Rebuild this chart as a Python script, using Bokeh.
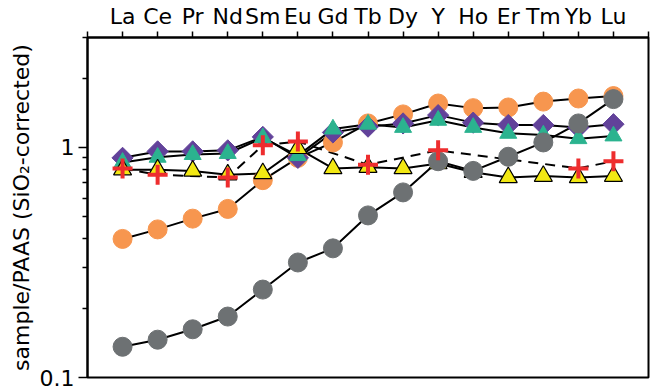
import numpy as np
from bokeh.plotting import figure
from bokeh.models import Range1d, FixedTicker
from bokeh.embed import file_html
from bokeh.resources import INLINE

elements = ["La", "Ce", "Pr", "Nd", "Sm", "Eu", "Gd", "Tb", "Dy", "Y", "Ho", "Er", "Tm", "Yb", "Lu"]
xpos = list(range(1, len(elements) + 1))

orange = [0.40, 0.44, 0.49, 0.54, 0.72, 0.90, 1.05, 1.27, 1.39, 1.55, 1.48, 1.49, 1.58, 1.63, 1.67]
grey = [0.136, 0.146, 0.162, 0.184, 0.241, 0.316, 0.364, 0.506, 0.637, 0.87, 0.79, 0.91, 1.05, 1.27, 1.62]
purple = [0.90, 0.96, 0.96, 0.97, 1.11, 0.90, 1.16, 1.23, 1.27, 1.38, 1.28, 1.25, 1.25, 1.22, 1.26]
teal = [0.86, 0.905, 0.93, 0.94, 1.10, 0.92, 1.20, 1.26, 1.22, 1.31, 1.22, 1.15, 1.13, 1.09, 1.12]
yellow = [0.80, 0.80, 0.79, 0.76, 0.77, 0.99, 0.81, 0.82, 0.81, 0.85, 0.78, 0.74, 0.75, 0.74, 0.75]
red = [0.81, 0.76, None, 0.74, 1.02, 1.06, None, 0.84, None, 0.97, None, None, None, 0.81, 0.87]

y_major = [0.1, 1]
y_minor = [0.2, 0.3, 0.4, 0.5, 0.6, 0.7, 0.8, 0.9, 2, 3]

FONT = "DejaVu Sans"
FS = "22px"

p = figure(width=652, height=389, output_backend="svg", toolbar_location=None,
           x_range=Range1d(0, 16), y_range=Range1d(0.1, 3), y_axis_type="log",
           x_axis_location="above", min_border_left=87, min_border_top=37,
           min_border_right=4, min_border_bottom=12)
p.grid.visible = False
p.outline_line_color = "black"
p.outline_line_width = 2
p.background_fill_color = "white"

# top axis
xa = p.xaxis[0]
xa.ticker = FixedTicker(ticks=list(range(0, 17)))
overrides = {0: "", 16: ""}
for i, e in zip(xpos, elements):
    overrides[i] = e
xa.major_label_overrides = overrides
xa.major_tick_out = 6
xa.major_tick_in = 0
xa.minor_tick_out = 0
xa.minor_tick_in = 0
xa.major_tick_line_width = 1.5
xa.axis_line_width = 2
xa.major_label_text_font = FONT
xa.major_label_text_font_size = FS
xa.major_label_text_color = "black"
xa.major_label_standoff = 3

ya = p.yaxis[0]
ya.ticker = FixedTicker(ticks=y_major, minor_ticks=y_minor)
ya.major_label_overrides = {0.1: "0.1", 1: "1"}
ya.major_tick_out = 9
ya.major_tick_in = 0
ya.minor_tick_out = 5
ya.minor_tick_in = 0
ya.major_tick_line_width = 1.5
ya.minor_tick_line_width = 1.5
ya.axis_line_width = 2
ya.major_label_text_font = FONT
ya.major_label_text_font_size = FS
ya.major_label_text_color = "black"
ya.major_label_standoff = 4
ya.axis_label = "sample/PAAS (SiO\u2082-corrected)"
ya.axis_label_text_font = FONT
ya.axis_label_text_font_size = FS
ya.axis_label_text_font_style = "normal"
ya.axis_label_text_color = "black"
ya.axis_label_standoff = 3

# lines
for vals in [orange, grey, purple, teal, yellow]:
    p.line(xpos, vals, line_color="black", line_width=2)
rx = [x for x, v in zip(xpos, red) if v is not None]
ry = [v for v in red if v is not None]
p.line(rx, ry, line_color="black", line_width=2, line_dash="10 7")

# markers
p.scatter(xpos, orange, marker="circle", size=19, fill_color="#f7964f", line_color="#f7964f")
p.scatter(xpos, purple, marker="square", angle=np.pi / 4, size=15, fill_color="#62429a", line_color="#62429a")
p.scatter(xpos, teal, marker="triangle", size=17, fill_color="#2bb38f", line_color="#2bb38f")
p.scatter(xpos, yellow, marker="triangle", size=18, fill_color="#f2e813", line_color="black", line_width=1.2)
p.scatter(xpos, grey, marker="circle", size=19, fill_color="#6d7173", line_color="#6d7173")
p.scatter(rx, ry, marker="cross", size=20, line_color="#ee2d2e", line_width=4)

open("out.html", "w").write(file_html(p, INLINE))
